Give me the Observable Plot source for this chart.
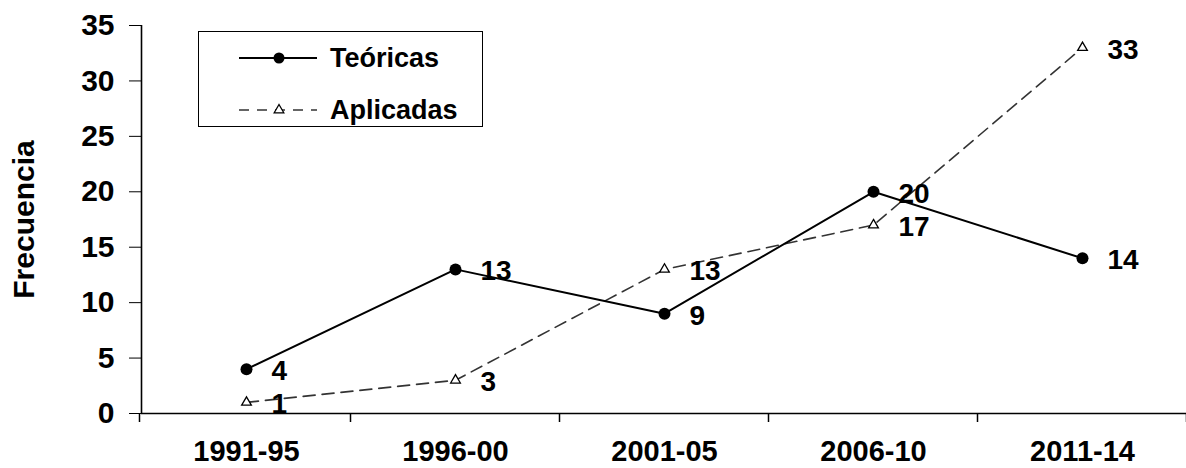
<!DOCTYPE html>
<html><head><meta charset="utf-8">
<script src="https://cdn.jsdelivr.net/npm/d3@7"></script>
<script src="https://cdn.jsdelivr.net/npm/@observablehq/plot@0.6"></script>
<style>
body{margin:0;background:#fff;}
#wrap{position:relative;width:1186px;height:468px;font-family:"Liberation Sans",Arial,sans-serif;}
#legend{position:absolute;left:198px;top:31px;width:285px;height:96px;border:1.5px solid #000;box-sizing:border-box;background:#fff}
#legend svg{display:block}
</style></head><body><div id="wrap"><div id="legend"></div></div>
<script>
const periods = ["1991-95","1996-00","2001-05","2006-10","2011-14"];
const teoricas = [4,13,9,20,14];
const aplicadas = [1,3,13,17,33];
const yTicks = [0,5,10,15,20,25,30,35];
const seriesNames = ["Teóricas","Aplicadas"];
const yLabel = "Frecuencia";

const teo = periods.map((p,i)=>({period:p, value:teoricas[i]}));
const apl = periods.map((p,i)=>({period:p, value:aplicadas[i]}));

const FONT = "Liberation Sans, Arial, sans-serif";

const chart = Plot.plot({
  width:1186, height:468, marginLeft:141, marginRight:0, marginTop:25, marginBottom:55,
  style:{fontFamily:FONT, fontSize:"30px", fontWeight:"bold", color:"#000", background:"#fff", overflow:"visible"},
  x:{type:"point", domain:periods, padding:0.5, label:null},
  y:{domain:[0,35], label:yLabel},
  marks:[
    Plot.axisY({ticks:yTicks, tickSize:12, tickPadding:15, label:yLabel, labelAnchor:"center", labelArrow:"none", labelOffset:129, fontSize:30, fontWeight:"bold"}),
    Plot.axisX({tickSize:0, tickPadding:27, fontSize:29, fontWeight:"bold", label:null}),
    Plot.ruleY([0],{stroke:"#000", strokeWidth:1.6}),
    Plot.line(apl,{x:"period",y:"value",stroke:"#333",strokeWidth:1.6,strokeDasharray:"12,7"}),
    Plot.line(teo,{x:"period",y:"value",stroke:"#000",strokeWidth:2}),
    Plot.dot(apl,{x:"period",y:"value",symbol:"triangle",r:3.6,stroke:"#000",fill:"#fff",strokeWidth:1.3}),
    Plot.dot(teo,{x:"period",y:"value",r:6,fill:"#000",stroke:"none"}),
    Plot.text(teo,{x:"period",y:"value",text:"value",dx:25,dy:2,textAnchor:"start",fontSize:28,fontWeight:"bold",fill:"#000"}),
    Plot.text(apl,{x:"period",y:"value",text:"value",dx:25,dy:2,textAnchor:"start",fontSize:28,fontWeight:"bold",fill:"#000"})
  ]
});

document.getElementById("wrap").appendChild(chart);
chart.style.position = "absolute"; chart.style.left = "0"; chart.style.top = "0";
document.getElementById("wrap").appendChild(document.getElementById("legend"));

// axis line and boundary ticks from the library's scales
const xs = chart.scale("x"), ys = chart.scale("y");
const svg = d3.select(chart);
const step = xs.apply(periods[1]) - xs.apply(periods[0]);
const x0 = xs.apply(periods[0]) - step/2;
const y0 = ys.apply(0), yTop = ys.apply(35);
svg.append("line").attr("x1",x0).attr("x2",x0).attr("y1",yTop).attr("y2",y0).attr("stroke","#000").attr("stroke-width",1.6);
for (let i = 0; i <= periods.length; i++) {
  const x = x0 + i*step - (i===0?2:0);
  svg.append("line").attr("x1",x).attr("x2",x).attr("y1",y0).attr("y2",y0+9).attr("stroke","#000").attr("stroke-width",1.5);
}

// legend
const lg = d3.select("#legend").append("svg").attr("width",282).attr("height",93);
const rows = [{name:seriesNames[0], y:26, dash:null}, {name:seriesNames[1], y:78, dash:"10,8"}];
rows.forEach((r,i)=>{
  lg.append("line").attr("x1",40).attr("x2",118).attr("y1",r.y).attr("y2",r.y)
    .attr("stroke", i===0?"#000":"#333").attr("stroke-width", i===0?2:1.6).attr("stroke-dasharray", r.dash);
  if (i===0) lg.append("circle").attr("cx",80).attr("cy",r.y).attr("r",5.5).attr("fill","#000");
  else lg.append("path").attr("d", d3.symbol(d3.symbolTriangle, 40)()).attr("transform",`translate(80,${r.y})`)
    .attr("fill","#fff").attr("stroke","#000").attr("stroke-width",1.3);
  lg.append("text").attr("x",131).attr("y",r.y).attr("dy","0.35em").text(r.name)
    .attr("font-family",FONT).attr("font-size",27).attr("font-weight","bold");
});
</script>
</body></html>
